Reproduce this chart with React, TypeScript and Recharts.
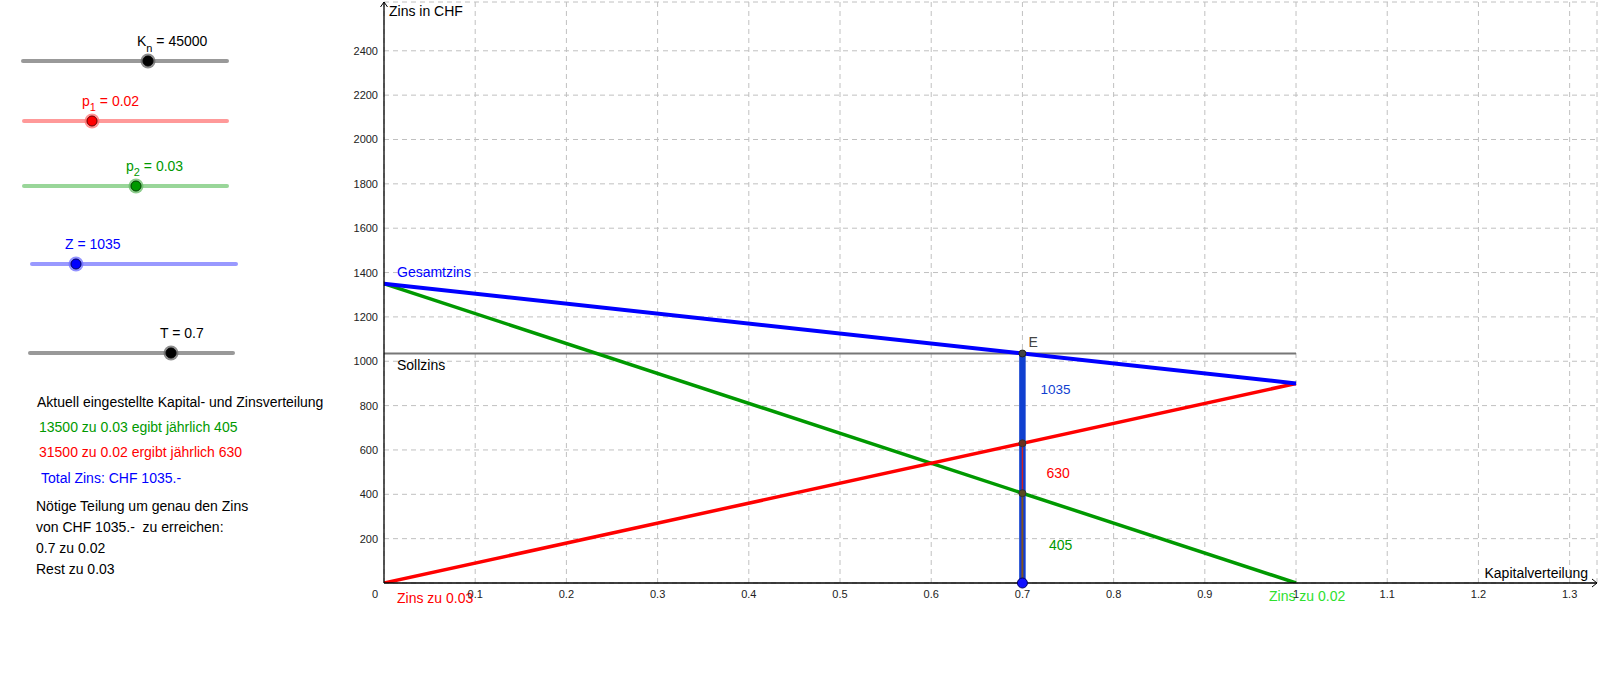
import React from "react";
import {
  ComposedChart,
  Line,
  XAxis,
  YAxis,
  CartesianGrid,
  ReferenceDot,
} from "recharts";

// share of capital put at 2 % (0 .. 1) and the yearly interest in CHF
const splitEnds = [0, 1];
const totalInterest = [1350, 900]; // Gesamtzins
const interestRed = [0, 900]; // Zins zu 0.02
const interestGreen = [1350, 0]; // Zins zu 0.03
const targetInterest = 1035; // Sollzins
const splitT = 0.7;
const partRed = 630;
const partGreen = 405;

const xTicks = [0, 0.1, 0.2, 0.3, 0.4, 0.5, 0.6, 0.7, 0.8, 0.9, 1, 1.1, 1.2, 1.3];
const yTicks = [200, 400, 600, 800, 1000, 1200, 1400, 1600, 1800, 2000, 2200, 2400];

// slider values shown on the left
const capital = 45000;
const rate1 = 0.02;
const rate2 = 0.03;
const zValue = 1035;

const infoLines = [
  "Aktuell eingestellte Kapital- und Zinsverteilung",
  "13500 zu 0.03 egibt jährlich 405",
  "31500 zu 0.02 ergibt jährlich 630",
  "Total Zins: CHF 1035.-",
  "Nötige Teilung um genau den Zins",
  "von CHF 1035.-  zu erreichen:",
  "0.7 zu 0.02",
  "Rest zu 0.03",
];

const FONT = '"Liberation Sans", Arial, sans-serif';
const RED = "#ff0000";
const GREEN = "#009900";
const BLUE = "#0000ff";
const BAR = "#1040d0";

const toPoints = (ys: number[]) => splitEnds.map((x, i) => ({ x, y: ys[i] }));
const flat = (y: number) => splitEnds.map((x) => ({ x, y }));
const upright = (x: number, top: number) => [
  { x, y: 0 },
  { x, y: top },
];

const XTick = ({ x, y, payload }: any) => (
  <text
    x={payload.value === 0 ? x - 9 : x}
    y={y + 15}
    textAnchor="middle"
    fontSize={11}
    fill="#222"
    fontFamily={FONT}
  >
    {payload.value}
  </text>
);

const YTick = ({ x, y, payload }: any) => (
  <text x={x - 6} y={y + 4} textAnchor="end" fontSize={11} fill="#222" fontFamily={FONT}>
    {payload.value}
  </text>
);

// text pinned to a data point with a pixel offset
const tag = (
  key: string,
  x: number,
  y: number,
  text: string,
  color: string,
  dx: number,
  dy: number,
  size = 14,
  anchor = "start"
) => (
  <ReferenceDot
    key={key}
    x={x}
    y={y}
    r={0}
    ifOverflow="visible"
    shape={(p: any) => (
      <text
        x={p.cx + dx}
        y={p.cy + dy}
        fill={color}
        fontSize={size}
        fontFamily={FONT}
        textAnchor={anchor}
      >
        {text}
      </text>
    )}
  />
);

const Slider = ({ x1, x2, y, knob, track, halo, fill, edge }: any) => (
  <g>
    <line x1={x1} x2={x2} y1={y} y2={y} stroke={track} strokeWidth={4} strokeLinecap="round" />
    <circle cx={knob} cy={y} r={7.5} fill={halo} opacity={0.75} />
    <circle cx={knob} cy={y} r={5} fill={fill} stroke={edge} strokeWidth={1} />
  </g>
);

function LeftPanel() {
  const infoColors = ["#000", GREEN, RED, BLUE, "#000", "#000", "#000", "#000"];
  const infoX = [37, 39, 39, 41, 36, 36, 36, 36];
  const infoY = [407, 432, 457, 483, 511, 532, 553, 574];
  return (
    <svg width={340} height={690} style={{ position: "absolute", left: 0, top: 0 }}>
      <g fontFamily={FONT} fontSize={14}>
        <text x={137} y={46} fill="#000">
          K<tspan dy={6} fontSize={11}>n</tspan>
          <tspan dy={-6}> = {capital}</tspan>
        </text>
        <Slider x1={23} x2={227} y={61} knob={148} track="#999" halo="#666" fill="#000" edge="#000" />

        <text x={82} y={106} fill={RED}>
          p<tspan dy={5} fontSize={11}>1</tspan>
          <tspan dy={-5}> = {rate1}</tspan>
        </text>
        <Slider x1={24} x2={227} y={121} knob={92} track="#ff9999" halo="#ff7070" fill={RED} edge="#660000" />

        <text x={126} y={171} fill={GREEN}>
          p<tspan dy={5} fontSize={11}>2</tspan>
          <tspan dy={-5}> = {rate2}</tspan>
        </text>
        <Slider x1={24} x2={227} y={186} knob={136} track="#99d699" halo="#66bb66" fill={GREEN} edge="#004400" />

        <text x={65} y={249} fill={BLUE}>
          Z = {zValue}
        </text>
        <Slider x1={32} x2={236} y={264} knob={76} track="#9999ff" halo="#6f6fff" fill={BLUE} edge="#000066" />

        <text x={160} y={338} fill="#000">
          T = {splitT}
        </text>
        <Slider x1={30} x2={233} y={353} knob={171} track="#999" halo="#666" fill="#000" edge="#000" />

        {infoLines.map((t, i) => (
          <text key={t} x={infoX[i]} y={infoY[i]} fill={infoColors[i]} style={{ whiteSpace: "pre" }}>
            {t}
          </text>
        ))}
      </g>
    </svg>
  );
}

export default function App() {
  return (
    <div
      style={{
        position: "absolute",
        left: 0,
        top: 0,
        width: 1600,
        height: 690,
        background: "#fff",
        overflow: "hidden",
      }}
    >
      <div style={{ position: "absolute", left: 0, top: 0 }}>
        <ComposedChart width={1600} height={690} margin={{ top: 2, right: 3, left: 0, bottom: 77 }}>
          <CartesianGrid stroke="#c0c0c0" strokeDasharray="5 4" />
          <XAxis
            type="number"
            dataKey="x"
            domain={[0, 1.33]}
            ticks={xTicks}
            allowDataOverflow
            height={30}
            tickSize={0}
            tickMargin={0}
            tickLine={false}
            axisLine={{ stroke: "#000", strokeWidth: 1.3 }}
            tick={<XTick />}
            interval={0}
          />
          <YAxis
            type="number"
            domain={[0, 2620]}
            ticks={yTicks}
            allowDataOverflow
            width={384}
            tickSize={0}
            tickMargin={0}
            tickLine={false}
            axisLine={{ stroke: "#000", strokeWidth: 1.3 }}
            tick={<YTick />}
            interval={0}
          />

          <Line data={flat(targetInterest)} dataKey="y" type="linear" stroke="#777" strokeWidth={2.2} dot={false} activeDot={false} isAnimationActive={false} />
          <Line data={toPoints(interestGreen)} dataKey="y" type="linear" stroke={GREEN} strokeWidth={3.5} dot={false} activeDot={false} isAnimationActive={false} />
          <Line data={toPoints(interestRed)} dataKey="y" type="linear" stroke={RED} strokeWidth={3.5} dot={false} activeDot={false} isAnimationActive={false} />
          <Line data={toPoints(totalInterest)} dataKey="y" type="linear" stroke={BLUE} strokeWidth={4} dot={false} activeDot={false} isAnimationActive={false} />
          <Line data={upright(splitT, targetInterest)} dataKey="y" type="linear" stroke={BAR} strokeWidth={6.5} dot={false} activeDot={false} isAnimationActive={false} />
          <Line data={upright(splitT, partRed)} dataKey="y" type="linear" stroke="#d02020" strokeWidth={1.5} dot={false} activeDot={false} isAnimationActive={false} />
          <Line data={upright(splitT, partGreen)} dataKey="y" type="linear" stroke="#7a5a1a" strokeWidth={1.5} dot={false} activeDot={false} isAnimationActive={false} />

          <ReferenceDot x={splitT} y={targetInterest} r={3.5} fill="#444" stroke="#222" strokeWidth={1} />
          <ReferenceDot x={splitT} y={partRed} r={3.5} fill="#6a3020" stroke="#333" strokeWidth={1} />
          <ReferenceDot x={splitT} y={partGreen} r={3.5} fill="#5a4a20" stroke="#333" strokeWidth={1} />
          <ReferenceDot x={splitT} y={0} r={5} fill="#1010ff" stroke="#000066" strokeWidth={1} />

          {/* axis arrows */}
          <ReferenceDot
            x={0}
            y={2620}
            r={0}
            ifOverflow="visible"
            shape={(p: any) => (
              <path d={`M${p.cx - 3.5},${p.cy + 5} L${p.cx},${p.cy} L${p.cx + 3.5},${p.cy + 5}`} stroke="#000" fill="none" strokeWidth={1} />
            )}
          />
          <ReferenceDot
            x={1.33}
            y={0}
            r={0}
            ifOverflow="visible"
            shape={(p: any) => (
              <path d={`M${p.cx - 5},${p.cy - 4} L${p.cx},${p.cy} L${p.cx - 5},${p.cy + 4}`} stroke="#000" fill="none" strokeWidth={1} />
            )}
          />

          {tag("yTitle", 0, 2620, "Zins in CHF", "#000", 5, 14)}
          {tag("xTitle", 1.33, 0, "Kapitalverteilung", "#000", -9, -5.5, 14, "end")}
          {tag("gesamt", 0, totalInterest[0], "Gesamtzins", BLUE, 13, -7)}
          {tag("soll", 0, targetInterest, "Sollzins", "#000", 13, 17)}
          {tag("e", splitT, targetInterest, "E", "#444", 6, -6)}
          {tag("vTotal", splitT, targetInterest, String(targetInterest), BAR, 18, 40.5, 13.5)}
          {tag("vRed", splitT, partRed, String(partRed), RED, 24, 35)}
          {tag("vGreen", splitT, partGreen, String(partGreen), GREEN, 26.5, 57)}
          {tag("red", 0, 0, "Zins zu 0.03", RED, 13, 20)}
          {tag("green", 1, 0, "Zins zu 0.02", "#2ee02e", -27, 18)}
        </ComposedChart>
      </div>
      <LeftPanel />
    </div>
  );
}
